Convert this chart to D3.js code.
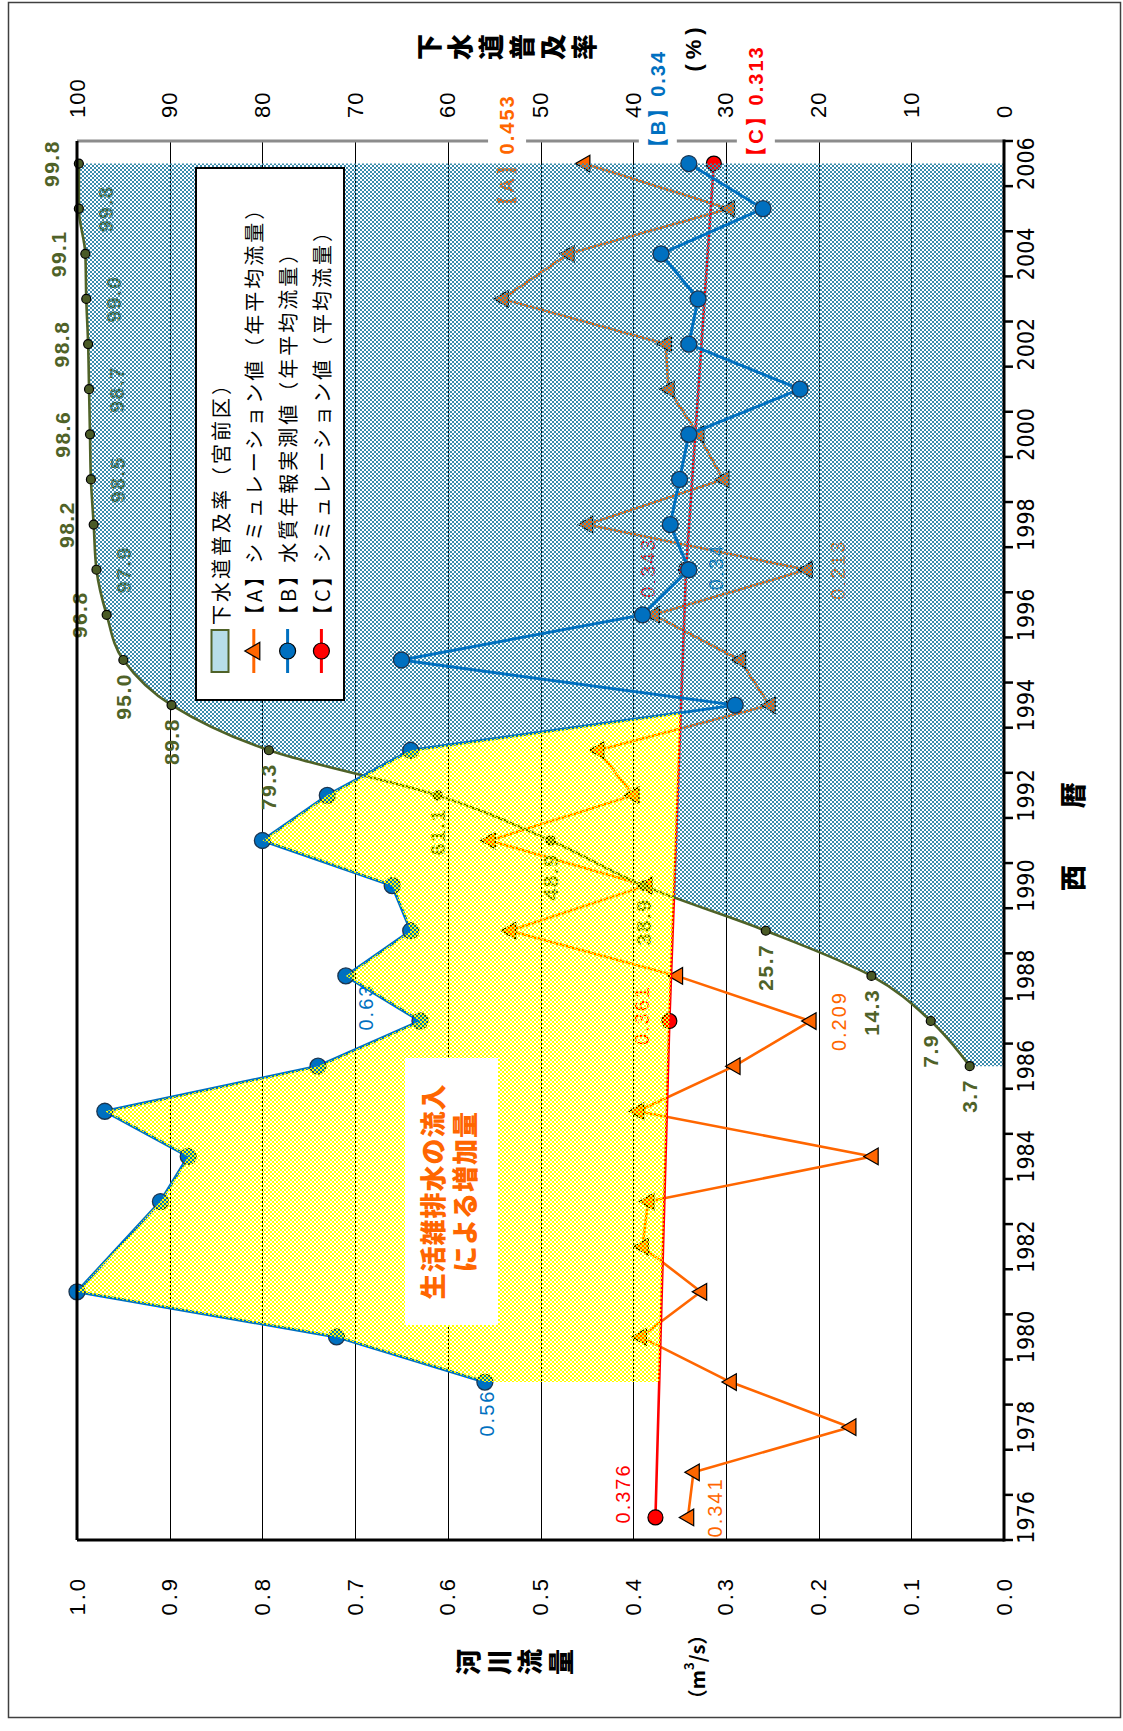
<!DOCTYPE html>
<html>
<head>
<meta charset="utf-8">
<script src="https://cdn.jsdelivr.net/npm/d3@7"></script>
<style>
  html, body { margin: 0; padding: 0; background: #fff; }
  svg { display: block; }
</style>
</head>
<body>
<svg id="chart" width="1123" height="1731"></svg>
<script>
// ---------- data ----------
const years = [1976, 1977, 1978, 1979, 1980, 1981, 1982, 1983, 1984, 1985, 1986,
               1987, 1988, 1989, 1990, 1991, 1992, 1993, 1994, 1995, 1996,
               1997, 1998, 1999, 2000, 2001, 2002, 2003, 2004, 2005, 2006];
const yearLabels = [1976, 1978, 1980, 1982, 1984, 1986, 1988, 1990, 1992, 1994,
                    1996, 1998, 2000, 2002, 2004, 2006];

// [A] simulated annual mean flow (m3/s)
const simA = [0.341, 0.335, 0.166, 0.295, 0.392, 0.327, 0.390, 0.384, 0.142, 0.395, 0.291,
              0.209, 0.353, 0.533, 0.386, 0.555, 0.400, 0.438, 0.253, 0.285, 0.378,
              0.213, 0.450, 0.303, 0.330, 0.362, 0.365, 0.541, 0.470, 0.297, 0.453];
// [B] measured annual mean flow from the water-quality yearbook (m3/s)
const measuredB = [null, null, null, 0.56, 0.72, 1.00, null, 0.91, 0.88, 0.97, 0.74,
                   0.63, 0.71, 0.64, 0.66, 0.80, 0.73, 0.64, 0.29, 0.65, 0.39,
                   0.34, 0.36, 0.35, 0.34, 0.22, 0.34, 0.33, 0.37, 0.26, 0.34];
// [C] simulated mean flow
const cYears = [1976, 1987, 1997, 2006];
const cValues = [0.376, 0.361, 0.343, 0.313];
// sewerage coverage, Miyamae ward (%)
const sewerYears = [1986, 1987, 1988, 1989, 1990, 1991, 1992, 1993, 1994, 1995, 1996,
                    1997, 1998, 1999, 2000, 2001, 2002, 2003, 2004, 2005, 2006];
const sewerRate = [3.7, 7.9, 14.3, 25.7, 38.9, 48.9, 61.1, 79.3, 89.8, 95.0, 96.8,
                   97.9, 98.2, 98.5, 98.6, 98.7, 98.8, 99.0, 99.1, 99.8, 99.8];

const flowTicks = [0, 0.1, 0.2, 0.3, 0.4, 0.5, 0.6, 0.7, 0.8, 0.9, 1.0];
const pctTicks = [0, 10, 20, 30, 40, 50, 60, 70, 80, 90, 100];

const legendItems = ["下水道普及率（宮前区）", "【A】シミュレーション値（年平均流量）",
                     "【B】水質年報実測値（年平均流量）", "【C】シミュレーション値（平均流量）"];
const noteLines = ["生活雑排水の流入", "による増加量"];

// ---------- styling ----------
const COL_A = "#FF6600", COL_B = "#0070C0", COL_C = "#FF0000", COL_S = "#4F6228";
const LATIN = "'Liberation Sans', Arial, sans-serif";
const CJK = "'Noto Sans CJK JP', 'Noto Sans CJK SC', sans-serif";

const svg = d3.select("#chart");
const defs = svg.append("defs");

// 50% checker fills, gaps left transparent
function checker(id, color) {
  const p = defs.append("pattern").attr("id", id)
    .attr("patternUnits", "userSpaceOnUse").attr("width", 4).attr("height", 4);
  p.append("rect").attr("x", 0).attr("y", 0).attr("width", 2).attr("height", 2).attr("fill", color);
  p.append("rect").attr("x", 2).attr("y", 2).attr("width", 2).attr("height", 2).attr("fill", color);
}
checker("hatchBlue", "#3A8BAE");
checker("hatchYellow", "#FFFF00");

svg.append("rect").attr("width", 1123).attr("height", 1731).attr("fill", "#fff");
svg.append("rect").attr("x", 8.5).attr("y", 2.5).attr("width", 1112).attr("height", 1715)
  .attr("fill", "none").attr("stroke", "#404040").attr("stroke-width", 1.5);

// The chart is laid out left-to-right by year and turned a quarter turn
const g = svg.append("g").attr("transform", "translate(0,1731) rotate(-90)");

const plot = { left: 191, right: 1590, top: 77, bottom: 1004 };
const x = d3.scaleBand().domain(years).range([plot.left, plot.right]).padding(0);
const cx = yr => x(yr) + x.bandwidth() / 2;
const xYear = yr => cx(years[0]) + (yr - years[0]) * x.step();
const yFlow = d3.scaleLinear().domain([0, 1]).range([plot.bottom, plot.top]);
const yPct = d3.scaleLinear().domain([0, 100]).range([plot.bottom, plot.top]);

const aPts = years.map((yr, i) => ({ yr, v: simA[i] }));
const bPts = years.map((yr, i) => ({ yr, v: measuredB[i] })).filter(d => d.v != null);
const cPts = cYears.map((yr, i) => ({ yr, v: cValues[i] }));
const sPts = sewerYears.map((yr, i) => ({ yr, v: sewerRate[i] }));

function cAt(yr) {
  for (let i = 0; i < cPts.length - 1; i++) {
    const a = cPts[i], b = cPts[i + 1];
    if (yr >= a.yr && yr <= b.yr) return a.v + (b.v - a.v) * (yr - a.yr) / (b.yr - a.yr);
  }
  return null;
}

// ---------- region where measured flow exceeds simulation [C] ----------
const startIdx = bPts.findIndex(d => d.v > cAt(d.yr));
let endIdx = startIdx;
while (endIdx + 1 < bPts.length && bPts[endIdx + 1].v > cAt(bPts[endIdx + 1].yr)) endIdx++;
const p0 = bPts[endIdx], p1 = bPts[endIdx + 1];
const d0 = p0.v - cAt(p0.yr), d1 = p1.v - cAt(p1.yr);
const tCross = d0 / (d0 - d1);
const crossYr = p0.yr + tCross * (p1.yr - p0.yr);
const crossV = p0.v + tCross * (p1.v - p0.v);
const startYr = bPts[startIdx].yr;
const poly = [];
bPts.slice(startIdx, endIdx + 1).forEach(d => poly.push([xYear(d.yr), yFlow(d.v)]));
poly.push([xYear(crossYr), yFlow(crossV)]);
cPts.filter(d => d.yr > startYr && d.yr < crossYr).reverse()
  .forEach(d => poly.push([xYear(d.yr), yFlow(d.v)]));
poly.push([xYear(startYr), yFlow(cAt(startYr))]);
const polyPath = "M" + poly.map(p => p.join(",")).join("L") + "Z";

defs.append("clipPath").attr("id", "noYellow").attr("clipPathUnits", "userSpaceOnUse")
  .append("path").attr("clip-rule", "evenodd")
  .attr("d", "M0,0H1731V1123H0Z" + polyPath);

// ---------- gridlines & secondary axis line ----------
g.append("g").selectAll("line")
  .data(flowTicks.filter(t => t > 0 && t < 1)).join("line")
  .attr("x1", plot.left).attr("x2", plot.right)
  .attr("y1", d => Math.round(yFlow(d)) + 0.5).attr("y2", d => Math.round(yFlow(d)) + 0.5)
  .attr("stroke", "#000").attr("stroke-width", 1);

g.append("line").attr("x1", plot.right).attr("x2", plot.right)
  .attr("y1", plot.top).attr("y2", plot.bottom)
  .attr("stroke", "#8C8C8C").attr("stroke-width", 3);

// ---------- series below the hatched area ----------
const lineGen = d3.line().x(d => cx(d.yr)).y(d => yFlow(d.v));
g.append("path").attr("d", lineGen(aPts)).attr("fill", "none")
  .attr("stroke", COL_A).attr("stroke-width", 2.6).attr("stroke-linejoin", "round");
g.append("g").selectAll("path").data(aPts).join("path")
  .attr("d", d3.symbol(d3.symbolTriangle, 120))
  .attr("transform", d => `translate(${cx(d.yr)},${yFlow(d.v) + 1})`)
  .attr("fill", COL_A).attr("stroke", "#000").attr("stroke-width", 1.2);

g.append("path").attr("d", lineGen(cPts)).attr("fill", "none")
  .attr("stroke", COL_C).attr("stroke-width", 2.6);
g.append("g").selectAll("circle").data(cPts).join("circle")
  .attr("cx", d => cx(d.yr)).attr("cy", d => yFlow(d.v)).attr("r", 7.5)
  .attr("fill", COL_C).attr("stroke", "#000").attr("stroke-width", 1.2);

// ---------- value labels ----------
const fmt3 = d3.format(".3f"), fmt2 = d3.format(".2f"), fmt1 = d3.format(".1f");
const labelLayer = g.append("g").attr("font-family", LATIN).attr("font-size", 20)
  .attr("letter-spacing", 2);

function valueLabel(X, Y, text, color, boxed) {
  const t = labelLayer.append("text").attr("x", X).attr("y", Y)
    .attr("text-anchor", "middle").attr("dominant-baseline", "central")
    .attr("fill", color).text(text);
  if (boxed) {
    const bb = t.node().getBBox();
    labelLayer.insert("rect", () => t.node())
      .attr("x", bb.x - 4).attr("y", bb.y - 8).attr("width", bb.width + 8).attr("height", bb.height + 16)
      .attr("fill", "#fff");
  }
  return t;
}

const valueOf = {
  A: yr => simA[years.indexOf(yr)],
  B: yr => measuredB[years.indexOf(yr)],
  C: yr => cValues[cYears.indexOf(yr)]
};
const colorOf = { A: COL_A, B: COL_B, C: COL_C };
const fmtOf = { A: fmt3, B: fmt2, C: fmt3 };
const labelSpots = [
  { s: "A", yr: 1976, dx: 10, dy: 27 },
  { s: "A", yr: 1987, dx: 0, dy: 29 },
  { s: "A", yr: 1997, dx: 0, dy: 31 },
  { s: "A", yr: 2006, dx: 9, dy: -77, tag: "【A】" },
  { s: "B", yr: 1979, dx: -31, dy: 2 },
  { s: "B", yr: 1987, dx: 14, dy: -54 },
  { s: "B", yr: 1997, dx: 3, dy: 27 },
  { s: "B", yr: 2006, dx: 60, dy: -31, tag: "【B】" },
  { s: "C", yr: 1976, dx: 24, dy: -32 },
  { s: "C", yr: 1987, dx: 6, dy: -27 },
  { s: "C", yr: 1997, dx: 2, dy: -38 },
  { s: "C", yr: 2006, dx: 58, dy: 42, tag: "【C】" }
];
labelSpots.forEach(L => {
  const v = valueOf[L.s](L.yr);
  const txt = (L.tag || "") + fmtOf[L.s](v);
  const t = valueLabel(cx(L.yr) + L.dx, yFlow(v) + L.dy, txt, colorOf[L.s], !!L.tag);
  if (L.tag) t.attr("font-weight", "bold");
});

// sewerage coverage labels
sPts.forEach(d => {
  const X = cx(d.yr), Y = yPct(d.v);
  let lx = X, ly = Y, anchor = "middle";
  if (d.yr <= 1995) { lx = X - 13; anchor = "end"; }
  else if (d.yr % 2 === 0) { ly = Y - 27; }
  else { ly = Y + 27; }
  labelLayer.append("text").attr("x", lx).attr("y", ly)
    .attr("text-anchor", anchor).attr("dominant-baseline", "central")
    .attr("fill", COL_S).attr("font-size", 21).attr("font-weight", "bold")
    .attr("letter-spacing", 1.5).text(fmt1(d.v));
});

// ---------- hatched sewerage coverage area ----------
const areaGen = d3.area().x(d => cx(d.yr)).y0(yPct(0)).y1(d => yPct(d.v)).curve(d3.curveMonotoneX);
g.append("path").attr("d", areaGen(sPts)).attr("fill", "url(#hatchBlue)")
  .attr("clip-path", "url(#noYellow)");

// ---------- series above the area ----------
const sLine = d3.line().x(d => cx(d.yr)).y(d => yPct(d.v)).curve(d3.curveMonotoneX);
g.append("path").attr("d", sLine(sPts)).attr("fill", "none")
  .attr("stroke", COL_S).attr("stroke-width", 2.6);
g.append("g").selectAll("circle").data(sPts).join("circle")
  .attr("cx", d => cx(d.yr)).attr("cy", d => yPct(d.v)).attr("r", 4.5)
  .attr("fill", "#4A5A26").attr("stroke", "#000").attr("stroke-width", 1.2);

g.append("path").attr("d", lineGen(bPts)).attr("fill", "none")
  .attr("stroke", COL_B).attr("stroke-width", 3).attr("stroke-linejoin", "round");
g.append("g").selectAll("circle").data(bPts).join("circle")
  .attr("cx", d => cx(d.yr)).attr("cy", d => yFlow(d.v)).attr("r", 8)
  .attr("fill", COL_B).attr("stroke", "#1B3550").attr("stroke-width", 1.3);

// ---------- increase due to household wastewater ----------
g.append("path").attr("d", polyPath).attr("fill", "url(#hatchYellow)");

// ---------- legend ----------
const lg = g.append("g");
lg.append("rect").attr("x", 1031).attr("y", 196).attr("width", 532).attr("height", 148)
  .attr("fill", "#fff").attr("stroke", "#000").attr("stroke-width", 2);
const rowY = i => 220 + i * 33.8;
lg.append("rect").attr("x", 1059).attr("y", rowY(0) - 8.5).attr("width", 42).attr("height", 17)
  .attr("fill", "#B7DEE8").attr("stroke", COL_S).attr("stroke-width", 2);
[[COL_A, "tri"], [COL_B, "dot"], [COL_C, "dot"]].forEach((s, k) => {
  const Y = rowY(k + 1);
  lg.append("line").attr("x1", 1058).attr("x2", 1102).attr("y1", Y).attr("y2", Y)
    .attr("stroke", s[0]).attr("stroke-width", 3);
  if (s[1] === "tri") {
    lg.append("path").attr("d", d3.symbol(d3.symbolTriangle, 130))
      .attr("transform", `translate(1080,${Y + 1})`)
      .attr("fill", s[0]).attr("stroke", "#000").attr("stroke-width", 1.2);
  } else {
    lg.append("circle").attr("cx", 1080).attr("cy", Y).attr("r", 8)
      .attr("fill", s[0]).attr("stroke", "#000").attr("stroke-width", 1.2);
  }
});
lg.selectAll("text.item").data(legendItems).join("text").attr("class", "item")
  .attr("x", 1106).attr("y", (d, i) => rowY(i))
  .attr("dominant-baseline", "central").attr("font-family", CJK).attr("font-size", 20)
  .attr("letter-spacing", 3).attr("fill", "#000").text(d => d);

// ---------- annotation ----------
const note = g.append("g");
note.append("rect").attr("x", 406).attr("y", 405).attr("width", 267).attr("height", 93).attr("fill", "#fff");
note.selectAll("text").data(noteLines).join("text")
  .attr("x", 539.5).attr("y", (d, i) => 431 + i * 32)
  .attr("text-anchor", "middle").attr("dominant-baseline", "central")
  .attr("font-family", CJK).attr("font-weight", 900).attr("font-size", 26)
  .attr("letter-spacing", 1).attr("fill", COL_A).text(d => d);

// ---------- axes ----------
const axFlow = g.append("g").attr("transform", `translate(${plot.left},0)`)
  .call(d3.axisLeft(yFlow).tickValues(flowTicks).tickFormat(fmt1).tickSize(0).tickPadding(36));
axFlow.select(".domain").remove();
axFlow.selectAll("text").attr("font-family", LATIN).attr("font-size", 22)
  .attr("letter-spacing", 3).attr("fill", "#000");

const axPct = g.append("g").attr("transform", `translate(${plot.right},0)`)
  .call(d3.axisRight(yPct).tickValues(pctTicks).tickFormat(d3.format("d")).tickSize(0).tickPadding(23));
axPct.select(".domain").remove();
axPct.selectAll("text").attr("font-family", LATIN).attr("font-size", 22)
  .attr("letter-spacing", 1).attr("fill", "#000");

const axYear = g.append("g").attr("transform", `translate(0,${plot.bottom})`)
  .call(d3.axisBottom(x).tickValues(yearLabels).tickSize(0).tickPadding(14));
axYear.select(".domain").remove();
axYear.selectAll("text")
  .attr("font-family", "'Liberation Sans Narrow', 'DejaVu Sans Condensed', 'Liberation Sans', sans-serif")
  .attr("font-size", 23).attr("fill", "#000");
axYear.append("g").selectAll("line").data(years.map(yr => x(yr)).concat([plot.right])).join("line")
  .attr("x1", d => d).attr("x2", d => d).attr("y1", 0).attr("y2", 9)
  .attr("stroke", "#000").attr("stroke-width", 2.5);

// plot frame: category axis, value axis and top border
g.append("line").attr("x1", plot.left - 1.5).attr("x2", plot.right + 1.5)
  .attr("y1", plot.bottom).attr("y2", plot.bottom).attr("stroke", "#000").attr("stroke-width", 3);
g.append("line").attr("x1", plot.left).attr("x2", plot.left)
  .attr("y1", plot.top).attr("y2", plot.bottom).attr("stroke", "#000").attr("stroke-width", 3);
g.append("line").attr("x1", plot.left).attr("x2", plot.right)
  .attr("y1", plot.top).attr("y2", plot.top).attr("stroke", "#000").attr("stroke-width", 3);

// ---------- axis titles ----------
function verticalTitle(X, Y0, pitch, str) {
  const t = g.append("text").attr("font-family", CJK).attr("font-weight", 900)
    .attr("font-size", 26).attr("fill", "#000").attr("text-anchor", "middle")
    .attr("dominant-baseline", "central");
  Array.from(str).forEach((ch, i) => {
    t.append("tspan").attr("x", X).attr("y", Y0 + i * pitch).text(ch);
  });
}
verticalTitle(69, 466, 31, "河川流量");
verticalTitle(1684, 427, 31, "下水道普及率");

const unitFlow = g.append("text").attr("x", 64).attr("y", 696)
  .attr("text-anchor", "middle").attr("dominant-baseline", "central")
  .attr("font-family", CJK).attr("font-weight", "bold").attr("font-size", 20).attr("fill", "#000");
unitFlow.append("tspan").text("（m");
unitFlow.append("tspan").attr("font-size", 13).attr("dy", -8).text("3");
unitFlow.append("tspan").attr("dy", 8).text("/s）");

g.append("text").attr("x", 1684).attr("y", 693)
  .attr("text-anchor", "middle").attr("dominant-baseline", "central")
  .attr("font-family", LATIN).attr("font-weight", "bold").attr("font-size", 22)
  .attr("letter-spacing", 5).attr("fill", "#000").text("(%)");

const yearTitle = g.append("text").attr("y", 1071).attr("dominant-baseline", "central")
  .attr("text-anchor", "middle").attr("font-family", CJK).attr("font-weight", 900)
  .attr("font-size", 26).attr("fill", "#000");
yearTitle.append("tspan").attr("x", 853).text("西");
yearTitle.append("tspan").attr("x", 936).text("暦");
</script>
</body>
</html>
